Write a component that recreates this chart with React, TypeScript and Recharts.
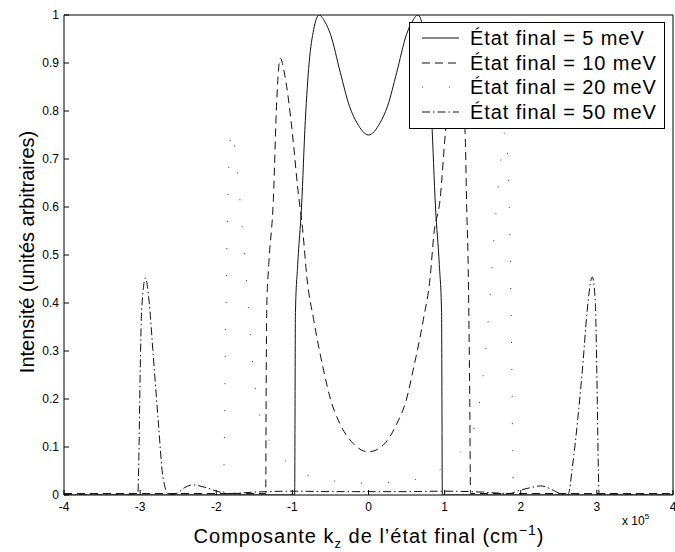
import { LineChart, Line, XAxis, YAxis, Legend } from "recharts";

// x values in units of 1e5 cm^-1, intensities normalised to 1
const X_TICKS = [-4, -3, -2, -1, 0, 1, 2, 3, 4];
const Y_TICKS = [0, 0.1, 0.2, 0.3, 0.4, 0.5, 0.6, 0.7, 0.8, 0.9, 1];

const kz5 = [-4, -0.97, -0.96, -0.93, -0.88, -0.83, -0.78, -0.72, -0.65, -0.57, -0.5, -0.37, -0.25, -0.15, 0,
  0.15, 0.25, 0.37, 0.5, 0.57, 0.65, 0.72, 0.78, 0.83, 0.88, 0.93, 0.96, 0.97, 4];
const int5 = [0, 0, 0.38, 0.48, 0.6, 0.78, 0.9, 0.97, 1.0, 0.985, 0.96, 0.88, 0.81, 0.775, 0.75,
  0.775, 0.81, 0.88, 0.96, 0.985, 1.0, 0.97, 0.9, 0.78, 0.6, 0.48, 0.38, 0, 0];

const kz10 = [-4, -1.35, -1.345, -1.335, -1.31, -1.25, -1.205, -1.16, -1.1, -1.0, -0.93, -0.86, -0.81, -0.72, -0.59, -0.5, -0.38, -0.2, 0,
  0.2, 0.376, 0.5, 0.586, 0.72, 0.81, 0.86, 0.94, 1.01, 1.08, 1.16, 1.22, 1.27, 1.29, 1.31, 1.33, 1.34, 4];
const int10 = [0.003, 0.003, 0.2, 0.4, 0.48, 0.615, 0.823, 0.91, 0.875, 0.754, 0.64, 0.545, 0.454, 0.365, 0.26, 0.2, 0.15, 0.107, 0.09,
  0.105, 0.15, 0.2, 0.26, 0.365, 0.454, 0.545, 0.615, 0.754, 0.86, 0.91, 0.86, 0.75, 0.6, 0.47, 0.2, 0.003, 0.003];

const kz20 = [-4, -1.91, -1.9, -1.88, -1.85, -1.8, -1.74, -1.66, -1.6, -1.52, -1.42, -1.25, -1.0, -0.6, 0,
  0.6, 1.0, 1.25, 1.42, 1.52, 1.6, 1.66, 1.74, 1.8, 1.85, 1.88, 1.9, 1.91, 4];
const int20 = [0, 0, 0.04, 0.3, 0.6, 0.76, 0.7, 0.56, 0.44, 0.27, 0.16, 0.1, 0.06, 0.032, 0.025,
  0.032, 0.06, 0.1, 0.16, 0.27, 0.42, 0.56, 0.7, 0.76, 0.6, 0.3, 0.04, 0, 0];

const kz50 = [-4, -3.03, -3.02, -3.0, -2.98, -2.93, -2.88, -2.83, -2.76, -2.7, -2.62, -2.5, -2.42, -2.3, -2.15, -1.99, -1.85,
  -1.5, -1.0, -0.5, 0, 0.5, 1.0, 1.5,
  1.85, 1.99, 2.15, 2.26, 2.4, 2.5, 2.62, 2.68, 2.75, 2.82, 2.87, 2.94, 2.98, 3.0, 3.02, 3.03, 4];
const int50 = [0, 0, 0.05, 0.25, 0.385, 0.452, 0.4, 0.296, 0.15, 0.037, 0, 0.005, 0.015, 0.021, 0.016, 0.008, 0.003,
  0.006, 0.008, 0.007, 0.007, 0.007, 0.008, 0.006,
  0.003, 0.01, 0.016, 0.019, 0.012, 0.004, 0, 0.06, 0.16, 0.28, 0.38, 0.454, 0.4, 0.25, 0.05, 0, 0];

const toPoints = (xs: number[], ys: number[]) => xs.map((x, i) => ({ x, y: ys[i] }));

const SERIES = [
  { name: "État final = 5 meV", data: toPoints(kz5, int5), dash: undefined, color: "#111" },
  { name: "État final = 10 meV", data: toPoints(kz10, int10), dash: "8 5", color: "#111" },
  { name: "État final = 20 meV", data: toPoints(kz20, int20), dash: "1 26", color: "#333" },
  { name: "État final = 50 meV", data: toPoints(kz50, int50), dash: "8 3 1.5 3", color: "#111" },
];

const FONT = "'Liberation Sans', Arial, Helvetica, sans-serif";

const LegendBox = () => (
  <div
    style={{
      border: "1px solid #000",
      background: "#fff",
      width: 256,
      padding: "3px 0 4px 0",
      fontFamily: FONT,
      fontSize: 20,
      letterSpacing: 0.9,
      color: "#000",
      boxSizing: "border-box",
    }}
  >
    {SERIES.map((s) => (
      <div key={s.name} style={{ display: "flex", alignItems: "center", height: 24.5 }}>
        <svg width={60} height={10} style={{ flexShrink: 0 }}>
          <line x1={12} y1={5} x2={49} y2={5} stroke={s.color} strokeWidth={1} strokeDasharray={s.dash} />
        </svg>
        <span style={{ lineHeight: "24px", whiteSpace: "nowrap" }}>{s.name}</span>
      </div>
    ))}
  </div>
);

const fmtY = (v: number) => (v === 0 || v === 1 ? String(v) : v.toFixed(1));

const App = () => (
  <div style={{ position: "absolute", left: 0, top: 0, width: 675, height: 552, background: "#fff" }}>
    <LineChart width={675} height={552} margin={{ top: 14, right: 1, bottom: 27, left: 14 }}>
      <XAxis
        xAxisId="b"
        dataKey="x"
        type="number"
        domain={[-4, 4]}
        ticks={X_TICKS}
        interval={0}
        allowDataOverflow
        height={30}
        tickSize={-5}
        tickMargin={12}
        axisLine={{ stroke: "#000" }}
        tickLine={{ stroke: "#000" }}
        tick={{ fontSize: 12, fill: "#000", fontFamily: FONT }}
      />
      <XAxis
        xAxisId="t"
        orientation="top"
        type="number"
        domain={[-4, 4]}
        ticks={X_TICKS}
        interval={0}
        height={1}
        tickSize={-5}
        tickFormatter={() => ""}
        axisLine={{ stroke: "#000" }}
        tickLine={{ stroke: "#000" }}
      />
      <YAxis
        yAxisId="l"
        type="number"
        domain={[0, 1]}
        ticks={Y_TICKS}
        interval={0}
        allowDataOverflow
        width={50}
        tickSize={-5}
        tickMargin={10}
        tickFormatter={fmtY}
        axisLine={{ stroke: "#000" }}
        tickLine={{ stroke: "#000" }}
        tick={{ fontSize: 12, fill: "#000", fontFamily: FONT }}
      />
      <YAxis
        yAxisId="r"
        orientation="right"
        type="number"
        domain={[0, 1]}
        ticks={Y_TICKS}
        interval={0}
        width={1}
        tickSize={-5}
        tickFormatter={() => ""}
        axisLine={{ stroke: "#000" }}
        tickLine={{ stroke: "#000" }}
      />
      {SERIES.map((s) => (
        <Line
          key={s.name}
          xAxisId="b"
          yAxisId="l"
          data={s.data}
          dataKey="y"
          name={s.name}
          type="monotone"
          stroke={s.color}
          strokeWidth={1}
          strokeDasharray={s.dash}
          dot={false}
          activeDot={false}
          isAnimationActive={false}
        />
      ))}
      <Legend
        layout="horizontal"
        verticalAlign="middle"
        align="center"
        content={() => <LegendBox />}
        wrapperStyle={{ top: 22, left: 409, width: 256 }}
      />
    </LineChart>

    <div
      style={{
        position: "absolute",
        left: 27,
        top: 252,
        transform: "translate(-50%, -50%) rotate(-90deg)",
        fontFamily: FONT,
        fontSize: 20,
        whiteSpace: "nowrap",
        color: "#000",
      }}
    >
      Intensité (unités arbitraires)
    </div>

    <div
      style={{
        position: "absolute",
        left: 369,
        top: 525,
        transform: "translateX(-50%)",
        fontFamily: FONT,
        fontSize: 20,
        letterSpacing: 1,
        whiteSpace: "nowrap",
        lineHeight: "22px",
        color: "#000",
      }}
    >
      Composante k<span style={{ fontSize: 13, position: "relative", top: 5 }}>z</span> de l’état final (cm
      <span style={{ fontSize: 14, position: "relative", top: -8 }}>−1</span>)
    </div>

    <div
      style={{
        position: "absolute",
        left: 622,
        top: 514,
        fontFamily: FONT,
        fontSize: 12,
        whiteSpace: "nowrap",
        lineHeight: "14px",
        color: "#000",
      }}
    >
      x 10<span style={{ fontSize: 8, position: "relative", top: -6 }}>5</span>
    </div>
  </div>
);

export default App;
